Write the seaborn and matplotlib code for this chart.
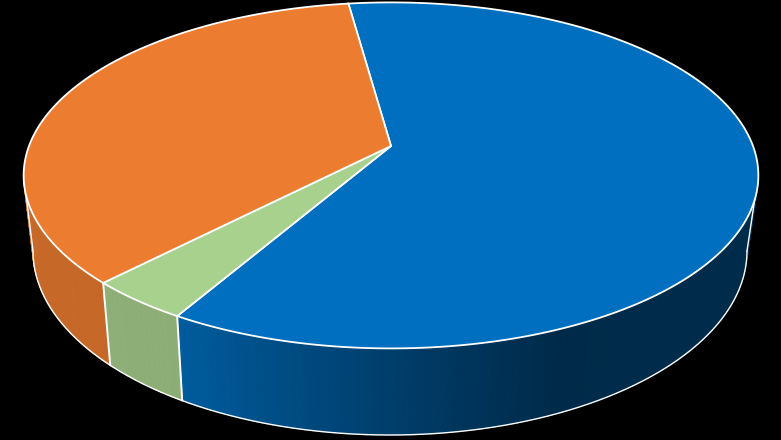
"""
Perspective 3D pie on a black background, drawn with matplotlib polygons.
"""

import matplotlib
matplotlib.use("Agg")

import matplotlib.pyplot as plt
import numpy as np
import seaborn as sns


slice_names = ["Blue", "Green", "Orange"]
slice_values = [60.6, 3.9, 35.5]
slice_colors = ["#006FBF", "#A9D18E", "#EB7C30"]

START_ANGLE = -7.9  # degrees clockwise from the back of the disc
TILT = 0.17  # perspective strength
TOP_FACE = dict(x0=391, y0=146, a=362.0, b=168.0)
BOTTOM_FACE = dict(x0=390, y0=219.7, a=351.8, b=178.7)


def project(theta, face):
    """Map angles on the disc rim to picture coordinates."""
    rad = np.radians(theta)
    w = 1 + TILT * np.cos(rad)
    x = face["x0"] + face["a"] * np.sin(rad) / w
    y = face["y0"] - face["b"] * np.cos(rad) / w
    return x, y


def side_shade(x):
    # the rim gets darker from left to right
    return np.interp(x, [23, 176, 260, 400, 560, 760],
                     [0.85, 0.83, 0.72, 0.55, 0.38, 0.40])


def draw_pie(ax):
    shares = np.array(slice_values) / sum(slice_values) * 360
    edges = START_ANGLE + np.concatenate([[0], np.cumsum(shares)])
    # rim is visible from the right silhouette round to the left one
    vis_start = np.degrees(np.arccos(-TILT))
    vis_end = 360 - vis_start

    # side walls
    for i, color in enumerate(slice_colors):
        lo, hi = max(edges[i], vis_start), min(edges[i + 1], vis_end)
        if lo >= hi:
            continue
        steps = np.linspace(lo, hi, int(hi - lo) + 2)
        rgb = np.array(matplotlib.colors.to_rgb(color))
        for t0, t1 in zip(steps[:-1], steps[1:]):
            xt, yt = project(np.array([t0, t1]), TOP_FACE)
            xb, yb = project(np.array([t1, t0]), BOTTOM_FACE)
            c = rgb * side_shade(xt.mean())
            ax.fill(np.r_[xt, xb], np.r_[yt, yb], color=c, lw=0.8, zorder=2)

    # silhouette and slice separators on the side
    arc = np.linspace(vis_start, vis_end, 400)
    ax.plot(*project(arc, BOTTOM_FACE), color="white", lw=1.0, zorder=3)
    for t in [vis_start, vis_end]:
        xt, yt = project(t, TOP_FACE)
        xb, yb = project(t, BOTTOM_FACE)
        ax.plot([xt, xb], [yt, yb], color="white", lw=1.0, zorder=3)
    for t in edges:
        if vis_start < t % 360 < vis_end:
            xt, yt = project(t, TOP_FACE)
            xb, yb = project(t, BOTTOM_FACE)
            ax.plot([xt, xb], [yt, yb], color="white", lw=1.4, zorder=3)

    # top face
    cx, cy = TOP_FACE["x0"], TOP_FACE["y0"]
    for i, color in enumerate(slice_colors):
        x, y = project(np.linspace(edges[i], edges[i + 1], 300), TOP_FACE)
        ax.fill(np.r_[cx, x], np.r_[cy, y], facecolor=color, edgecolor="white",
                lw=1.3, joinstyle="miter", zorder=4)


sns.set_theme(style="dark", rc={"figure.facecolor": "black", "axes.facecolor": "black"})

fig, ax = plt.subplots(figsize=(7.81, 4.40), dpi=100)
fig.subplots_adjust(left=0, right=1, top=1, bottom=0)
draw_pie(ax)
ax.set_xlim(0, 781)
ax.set_ylim(440, 0)
ax.axis("off")

fig.savefig("out.png", dpi=100, facecolor="black")
